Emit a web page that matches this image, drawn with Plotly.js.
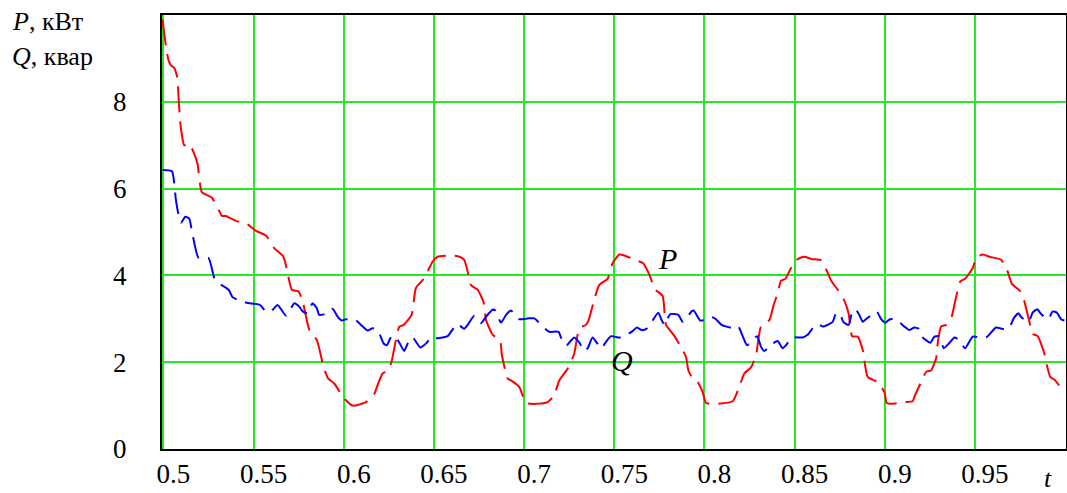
<!DOCTYPE html>
<html>
<head>
<meta charset="utf-8">
<script src="https://cdn.plot.ly/plotly-3.0.1.min.js"></script>
<style>html,body{margin:0;padding:0;background:#fff}#chart{width:1067px;height:493px}</style>
</head>
<body>
<div id="chart"></div>
<script>
const tP = [0.4995,0.5014,0.5028,0.5042,0.506,0.5078,0.5082,0.5093,0.5102,0.5115,0.5143,0.5167,0.5189,0.5213,0.5269,0.531,0.5324,0.5346,0.5405,0.5454,0.5516,0.5568,0.5614,0.5664,0.5683,0.5712,0.5749,0.5772,0.5809,0.5851,0.5888,0.5914,0.5947,0.6003,0.6049,0.6123,0.6169,0.6191,0.6215,0.6243,0.6265,0.628,0.6308,0.6332,0.6376,0.64,0.6443,0.6474,0.6493,0.652,0.6594,0.6641,0.6668,0.6687,0.6705,0.6742,0.6774,0.6789,0.6826,0.6866,0.6877,0.6909,0.6927,0.6973,0.701,0.7066,0.713,0.7167,0.7195,0.7241,0.7278,0.7306,0.7343,0.7358,0.7389,0.7417,0.7463,0.7487,0.751,0.7528,0.7556,0.7602,0.7663,0.7694,0.7726,0.7768,0.7787,0.7829,0.787,0.7898,0.7911,0.7935,0.7962,0.799,0.8009,0.8064,0.8157,0.8193,0.8221,0.8258,0.8286,0.8313,0.836,0.8384,0.8406,0.8425,0.8449,0.8475,0.8508,0.8554,0.8591,0.8647,0.8674,0.8702,0.8739,0.8776,0.88,0.8819,0.885,0.8878,0.8905,0.8961,0.8998,0.9011,0.9035,0.9109,0.9155,0.9164,0.9198,0.923,0.9257,0.9285,0.929,0.9312,0.934,0.9371,0.939,0.9419,0.9445,0.9488,0.9506,0.9543,0.958,0.9645,0.9678,0.9704,0.9752,0.9774,0.9802,0.982,0.9848,0.9885,0.99,0.9918,0.994,0.9974];
const P = [9.9,9.27,8.96,8.84,8.78,8.54,8.23,7.53,7.24,7.0,7.03,6.84,6.57,5.92,5.79,5.48,5.37,5.37,5.25,5.21,5.02,4.92,4.63,4.44,4.17,3.67,3.63,3.40,2.74,2.51,1.89,1.62,1.51,1.16,1.00,1.08,1.27,1.51,1.74,1.80,2.01,2.32,2.82,2.86,3.09,3.71,3.92,4.17,4.32,4.43,4.46,4.43,4.36,4.09,3.78,3.67,3.40,2.97,2.63,2.51,2.16,1.62,1.58,1.43,1.06,1.04,1.08,1.24,1.58,1.85,2.20,2.78,2.86,2.97,3.44,3.78,3.92,4.25,4.40,4.48,4.46,4.38,4.27,4.02,3.68,3.53,2.86,2.63,2.35,2.12,1.81,1.62,1.54,1.31,1.06,1.04,1.10,1.43,1.74,1.88,2.16,2.82,2.97,3.32,3.59,3.88,3.92,4.13,4.35,4.43,4.38,4.35,4.15,3.88,3.67,3.42,3.11,2.60,2.59,2.28,1.66,1.54,1.31,1.06,1.04,1.08,1.10,1.20,1.51,1.78,1.81,2.09,2.32,2.82,2.86,3.05,3.40,3.86,3.92,4.17,4.40,4.48,4.43,4.36,4.13,3.81,3.63,3.40,2.93,2.65,2.60,2.20,1.91,1.66,1.60,1.43];
const tQ = [0.4995,0.5047,0.5069,0.5082,0.5097,0.5121,0.5143,0.5158,0.5195,0.525,0.5282,0.5306,0.5361,0.5383,0.5411,0.5461,0.5535,0.5568,0.5596,0.5633,0.568,0.5726,0.5753,0.5772,0.5799,0.5827,0.5851,0.5864,0.591,0.5938,0.5966,0.5988,0.6012,0.6068,0.6105,0.6132,0.616,0.6188,0.6221,0.6239,0.6265,0.6284,0.6308,0.6335,0.6363,0.6382,0.6424,0.6461,0.648,0.652,0.6576,0.6628,0.6668,0.6687,0.6724,0.6761,0.6788,0.6807,0.6825,0.684,0.6872,0.69,0.6927,0.6951,0.6973,0.7025,0.7057,0.7103,0.714,0.7191,0.7217,0.7236,0.7278,0.731,0.7328,0.7352,0.738,0.7427,0.7454,0.7482,0.7519,0.7537,0.7596,0.7626,0.7651,0.7676,0.77,0.7744,0.7763,0.7778,0.7796,0.7811,0.7855,0.7879,0.7898,0.7922,0.794,0.7977,0.8014,0.804,0.8064,0.8095,0.8166,0.8188,0.8212,0.8236,0.8292,0.8314,0.8332,0.8351,0.8366,0.8406,0.8434,0.8452,0.8486,0.8545,0.8572,0.86,0.8628,0.8659,0.8711,0.873,0.8752,0.877,0.88,0.8818,0.8837,0.8859,0.8878,0.8896,0.8955,0.898,0.9003,0.9029,0.9059,0.9109,0.9136,0.9164,0.9188,0.9205,0.9253,0.9275,0.9297,0.9312,0.9327,0.9364,0.9386,0.9414,0.9445,0.9488,0.9525,0.9562,0.9593,0.9617,0.9663,0.9691,0.9715,0.9741,0.9756,0.9797,0.982,0.9845,0.9867,0.9907,0.9931,0.9955,0.9978,0.9996];
const Q = [6.43,6.40,5.74,5.43,5.21,5.35,5.31,5.02,4.40,4.40,3.94,3.82,3.67,3.50,3.44,3.37,3.32,3.17,3.17,3.32,3.07,3.36,3.28,3.17,3.13,3.36,3.24,3.09,3.13,3.23,3.05,2.96,2.99,2.96,2.82,2.73,2.78,2.74,2.43,2.39,2.60,2.59,2.45,2.26,2.51,2.57,2.34,2.45,2.57,2.55,2.60,2.88,2.77,2.86,3.07,2.90,3.04,3.14,3.21,3.19,2.91,3.09,3.19,3.09,2.99,3.01,3.01,2.82,2.70,2.70,2.43,2.39,2.57,2.43,2.26,2.32,2.57,2.32,2.47,2.60,2.57,2.57,2.70,2.80,2.74,2.76,2.88,3.14,2.97,2.86,3.01,3.11,3.09,2.93,2.97,3.14,3.19,2.96,2.99,3.04,2.99,2.86,2.78,2.82,2.60,2.39,2.60,2.35,2.26,2.32,2.39,2.49,2.32,2.39,2.57,2.57,2.63,2.78,2.88,2.82,2.93,3.13,3.11,2.93,2.86,3.14,3.22,3.09,2.93,2.99,3.17,2.99,2.91,2.99,2.99,2.82,2.74,2.80,2.77,2.59,2.45,2.59,2.60,2.51,2.32,2.47,2.57,2.51,2.32,2.59,2.57,2.57,2.70,2.80,2.76,2.80,3.01,3.13,3.04,2.93,3.14,3.22,3.11,2.99,3.17,3.14,2.99,2.96];
const xTicks = [0.5,0.55,0.6,0.65,0.7,0.75,0.8,0.85,0.9,0.95];
const xTickText = ['0.5','0.55','0.6','0.65','0.7','0.75','0.8','0.85','0.9','0.95'];
const yTicks = [0,2,4,6,8];

const serif = 'Liberation Serif';
const grid = 'rgb(40,230,40)';

const traces = [
  {x: tP, y: P, mode: 'lines', line: {color: '#ff0000', width: 2, dash: '26px,9px', shape: 'spline', smoothing: 0.5}, hoverinfo: 'skip'},
  {x: tQ, y: Q, mode: 'lines', line: {color: '#0000ff', width: 2, dash: '22px,9px', shape: 'spline', smoothing: 0.5}, hoverinfo: 'skip'}
];

const layout = {
  width: 1067, height: 493,
  margin: {l: 162, r: 1, t: 15, b: 44},
  paper_bgcolor: '#fff', plot_bgcolor: '#fff',
  showlegend: false,
  font: {family: serif, size: 27, color: '#000'},
  xaxis: {
    range: [0.4992, 1.0005], tickvals: xTicks, ticktext: xTickText,
    showgrid: true, gridcolor: grid, gridwidth: 2, zeroline: false,
    showline: true, linecolor: '#000', linewidth: 2, mirror: true,
    ticks: '', ticklabelshift: 10, ticklabelstandoff: 0,
    tickfont: {family: serif, size: 27, color: '#000'}
  },
  yaxis: {
    range: [0, 10], tickvals: yTicks,
    showgrid: true, gridcolor: grid, gridwidth: 2, zeroline: false,
    showline: true, linecolor: '#000', linewidth: 2, mirror: true,
    ticks: '', ticklabelstandoff: 28,
    tickfont: {family: serif, size: 27, color: '#000'}
  },
  annotations: [
    {xref: 'paper', yref: 'paper', x: -0.168, y: 0.984, xanchor: 'left', yanchor: 'middle', showarrow: false,
     text: '<i>P</i>, кВт', font: {family: serif, size: 26, color: '#000'}},
    {xref: 'paper', yref: 'paper', x: -0.168, y: 0.905, xanchor: 'left', yanchor: 'middle', showarrow: false,
     text: '<i>Q</i>, квар', font: {family: serif, size: 26, color: '#000'}},
    {xref: 'x', yref: 'y', x: 0.7797, y: 4.4, showarrow: false, text: '<i>P</i>', font: {family: serif, size: 30, color: '#000'}},
    {xref: 'x', yref: 'y', x: 0.7545, y: 2.05, showarrow: false, text: '<i>Q</i>', font: {family: serif, size: 30, color: '#000'}},
    {xref: 'x', yref: 'paper', x: 0.9905, y: -0.068, yanchor: 'middle', showarrow: false, text: '<i>t</i>', font: {family: serif, size: 26, color: '#000'}}
  ]
};

Plotly.newPlot('chart', traces, layout, {staticPlot: true, displayModeBar: false});
</script>
</body>
</html>
